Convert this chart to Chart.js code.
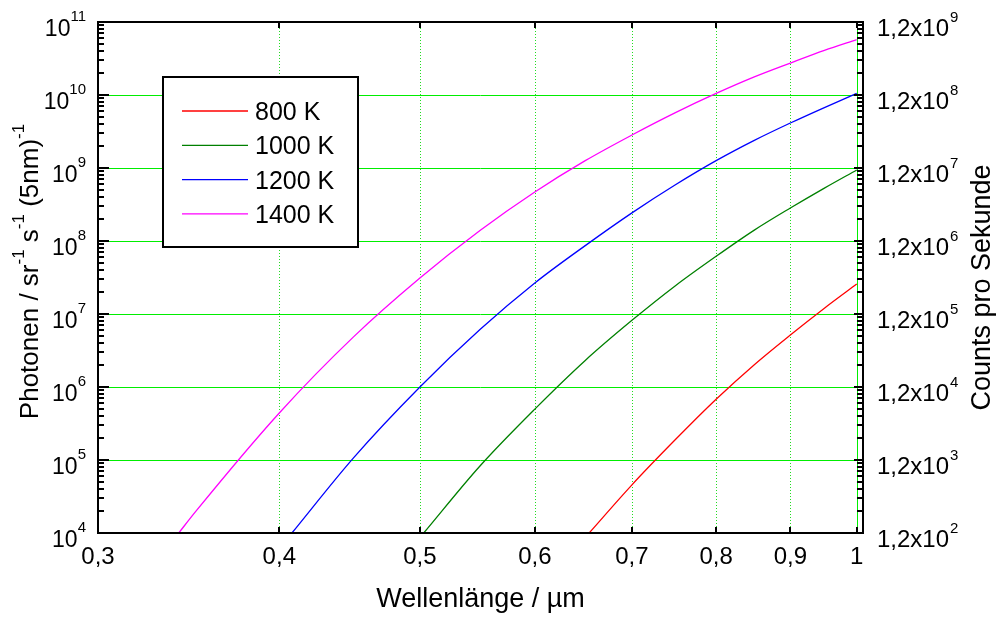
<!DOCTYPE html>
<html>
<head>
<meta charset="utf-8">
<title>Photonen</title>
<script src="https://cdn.jsdelivr.net/npm/chart.js@4/dist/chart.umd.min.js"></script>
<style>
html, body { margin: 0; padding: 0; background: #fff; }
#wrap { width: 997px; height: 617px; }
</style>
</head>
<body>
<div id="wrap"><canvas id="chartPhotonen" width="997" height="617"></canvas></div>
<script>
// Wellenlaenge in um, Photonen / sr / s / 5nm
var wl800 = [0.654, 0.7, 0.75, 0.8, 0.85, 0.9, 0.95, 1.0];
var n800 = [1e4, 4.57e4, 1.905e5, 6.79e5, 2.02e6, 5.15e6, 1.2e7, 2.57e7];

var wl1000 = [0.503, 0.55, 0.6, 0.65, 0.7, 0.75, 0.8, 0.85, 0.9, 0.95, 1.0];
var n1000 = [1e4, 8.28e4, 4.98e5, 2.31e6, 8.18e6, 2.44e7, 6.17e7, 1.41e8, 2.83e8, 5.31e8, 9.4e8];

var wl1200 = [0.4081, 0.45, 0.5, 0.55, 0.6, 0.65, 0.7, 0.75, 0.8, 0.85, 0.9, 0.95, 1.0];
var n1200 = [1e4, 1.07e5, 1e6, 6.12e6, 2.66e7, 8.65e7, 2.43e8, 5.89e8, 1.26e9, 2.39e9, 4.13e9, 6.73e9, 1.05e10];

var wl1400 = [0.341, 0.35, 0.4, 0.45, 0.5, 0.55, 0.6, 0.65, 0.7, 0.75, 0.8, 0.85, 0.9, 0.95, 1.0];
var n1400 = [1e4, 1.93e4, 4.41e5, 4.86e6, 3.11e7, 1.39e8, 4.69e8, 1.26e9, 2.83e9, 5.73e9, 1.05e10, 1.77e10, 2.74e10, 4.09e10, 5.75e10];

var seriesLabels = ["800 K", "1000 K", "1200 K", "1400 K"];
var seriesColors = ["#ff0000", "#008000", "#0000ff", "#ff00ff"];

var xTickValues = [0.3, 0.4, 0.5, 0.6, 0.7, 0.8, 0.9, 1.0];
var leftExponents = [4, 5, 6, 7, 8, 9, 10, 11];
var rightExponents = [2, 3, 4, 5, 6, 7, 8, 9];

var FONT = "'Liberation Sans', Arial, sans-serif";

function toPoints(xs, ys) {
    var pts = [];
    for (var i = 0; i < xs.length; i++) {
        pts.push({x: xs[i], y: ys[i]});
    }
    return pts;
}

function line(ctx, x1, y1, x2, y2) {
    ctx.beginPath();
    ctx.moveTo(x1, y1);
    ctx.lineTo(x2, y2);
    ctx.stroke();
}

// "10" mit Exponent, rechtsbuendig an xRight
function drawPowRight(ctx, base, exp, xRight, y) {
    ctx.font = "15px " + FONT;
    var we = ctx.measureText(exp).width;
    ctx.font = "23px " + FONT;
    var wb = ctx.measureText(base).width;
    ctx.textAlign = "left";
    ctx.textBaseline = "alphabetic";
    ctx.fillText(base, xRight - we - wb, y + 14);
    ctx.font = "15px " + FONT;
    ctx.fillText(exp, xRight - we, y - 1);
}

function drawPowLeft(ctx, base, exp, xLeft, y) {
    ctx.font = "24px " + FONT;
    var wb = ctx.measureText(base).width;
    ctx.textAlign = "left";
    ctx.textBaseline = "alphabetic";
    ctx.fillText(base, xLeft, y + 14);
    ctx.font = "15px " + FONT;
    ctx.fillText(exp, xLeft + wb + 1, y);
}

// Text aus Teilen [text, hochgestellt?] zeichnen, zentriert um 0
function drawParts(ctx, parts, bigSize, smallSize, raise) {
    var widths = [], total = 0;
    parts.forEach(function(p) {
        ctx.font = (p[1] ? smallSize : bigSize) + "px " + FONT;
        var w = ctx.measureText(p[0]).width;
        widths.push(w);
        total += w;
    });
    var x = -total / 2;
    ctx.textAlign = "left";
    ctx.textBaseline = "alphabetic";
    parts.forEach(function(p, i) {
        ctx.font = (p[1] ? smallSize : bigSize) + "px " + FONT;
        ctx.fillText(p[0], x, p[1] ? -raise : 0);
        x += widths[i];
    });
}

var axisDeco = {
    id: "axisDeco",
    beforeDatasetsDraw: function(chart) {
        var ctx = chart.ctx, a = chart.chartArea;
        var xs = chart.scales.x, ys = chart.scales.y;
        ctx.save();
        ctx.lineWidth = 1;
        ctx.strokeStyle = "#00ee00";
        leftExponents.forEach(function(e) {
            if (e === 4 || e === 11) return;
            var py = Math.round(ys.getPixelForValue(Math.pow(10, e))) + 0.5;
            line(ctx, a.left, py, a.right, py);
        });
        xTickValues.forEach(function(v) {
            if (v <= 0.3) return;
            var px = Math.round(xs.getPixelForValue(v)) + 0.5;
            if (v === 1.0) {
                ctx.setLineDash([]);
                ctx.strokeStyle = "#00ee00";
            } else {
                ctx.setLineDash([1, 2]);
                ctx.strokeStyle = "#22dd22";
            }
            line(ctx, px, a.top, px, a.bottom);
        });
        ctx.restore();
    },
    afterDatasetsDraw: function(chart) {
        var ctx = chart.ctx, a = chart.chartArea;
        var xs = chart.scales.x, ys = chart.scales.y, y2 = chart.scales.y2;
        ctx.save();

        // Legende
        ctx.fillStyle = "#fff";
        ctx.fillRect(163, 77, 195, 170);
        ctx.strokeStyle = "#000";
        ctx.lineWidth = 2;
        ctx.strokeRect(163, 77, 195, 170);
        chart.data.datasets.forEach(function(ds, i) {
            var ly = 111 + i * 34.3;
            ctx.strokeStyle = ds.borderColor;
            ctx.lineWidth = 1.3;
            line(ctx, 182, ly, 248, ly);
            ctx.fillStyle = "#000";
            ctx.font = "25px " + FONT;
            ctx.textAlign = "left";
            ctx.textBaseline = "alphabetic";
            ctx.fillText(ds.label, 255, ly + 9);
        });

        // Rahmen
        ctx.strokeStyle = "#000";
        ctx.lineWidth = 2;
        ctx.strokeRect(a.left, a.top, a.right - a.left, a.bottom - a.top);

        // Teilstriche links und rechts
        for (var e = 4; e <= 11; e++) {
            for (var k = 1; k <= 9; k++) {
                if (e === 11 && k > 1) break;
                var py = Math.round(ys.getPixelForValue(k * Math.pow(10, e)));
                var len = k === 1 ? 11 : 6;
                line(ctx, a.left, py, a.left + len, py);
            }
        }
        for (var e2 = 2; e2 <= 9; e2++) {
            for (var k2 = 1; k2 <= 9; k2++) {
                if (e2 === 9 && k2 > 1) break;
                var py2 = Math.round(y2.getPixelForValue(1.2 * k2 * Math.pow(10, e2)));
                var len2 = k2 === 1 ? 9 : 6;
                line(ctx, a.right, py2, a.right - len2, py2);
            }
        }
        // Teilstriche unten und oben
        xTickValues.forEach(function(v) {
            if (v <= 0.3) return;
            var px = Math.round(xs.getPixelForValue(v));
            line(ctx, px, a.bottom, px, a.bottom - 6);
            line(ctx, px, a.top, px, a.top + 6);
        });

        // Beschriftung der y-Achsen
        ctx.fillStyle = "#000";
        leftExponents.forEach(function(e) {
            var py = ys.getPixelForValue(Math.pow(10, e));
            drawPowRight(ctx, "10", String(e), a.left - 12, py);
        });
        rightExponents.forEach(function(e) {
            var py = y2.getPixelForValue(1.2 * Math.pow(10, e));
            drawPowLeft(ctx, "1,2x10", String(e), a.right + 14, py);
        });

        // Achsentitel
        var cy = (a.top + a.bottom) / 2;
        ctx.save();
        ctx.translate(38, cy - 6);
        ctx.rotate(-Math.PI / 2);
        drawParts(ctx, [["Photonen / sr", false], ["-1", true], [" s", false], ["-1", true], [" (5nm)", false], ["-1", true]], 26, 17, 14);
        ctx.restore();

        ctx.save();
        ctx.translate(990, cy + 10);
        ctx.rotate(-Math.PI / 2);
        drawParts(ctx, [["Counts pro Sekunde", false]], 27, 16, 0);
        ctx.restore();

        ctx.restore();
    }
};

var datasets = [
    toPoints(wl800, n800),
    toPoints(wl1000, n1000),
    toPoints(wl1200, n1200),
    toPoints(wl1400, n1400)
].map(function(pts, i) {
    return {
        label: seriesLabels[i],
        data: pts,
        borderColor: seriesColors[i],
        backgroundColor: seriesColors[i],
        borderWidth: 1.3,
        pointRadius: 0,
        fill: false,
        cubicInterpolationMode: "monotone"
    };
});

var canvas = document.querySelector("#chartPhotonen").getContext("2d");
var chart = new Chart(canvas, {
    type: "line",
    data: { datasets: datasets },
    plugins: [axisDeco],
    options: {
        responsive: false,
        animation: false,
        layout: { padding: { top: 22, left: 0, right: 0, bottom: 0 } },
        plugins: {
            legend: { display: false },
            tooltip: { enabled: false }
        },
        scales: {
            x: {
                type: "logarithmic",
                position: "bottom",
                min: 0.3,
                max: 1.01,
                grid: { display: false, drawTicks: false },
                border: { display: false },
                afterBuildTicks: function(scale) {
                    scale.ticks = xTickValues.map(function(v) { return {value: v}; });
                },
                afterFit: function(scale) { scale.height = 84; },
                ticks: {
                    autoSkip: false,
                    maxRotation: 0,
                    padding: 10,
                    color: "#000",
                    font: { family: FONT, size: 24 },
                    callback: function(value) {
                        return value === 1 ? "1" : value.toFixed(1).replace(".", ",");
                    }
                },
                title: {
                    display: true,
                    text: "Wellenlänge / µm",
                    color: "#000",
                    font: { family: FONT, size: 27 },
                    padding: { top: 0, bottom: 1 }
                }
            },
            y: {
                type: "logarithmic",
                position: "left",
                min: 1e4,
                max: 1e11,
                grid: { display: false, drawTicks: false },
                border: { display: false },
                ticks: { display: false },
                afterFit: function(scale) { scale.width = 98; }
            },
            y2: {
                type: "logarithmic",
                position: "right",
                min: 120,
                max: 1.2e9,
                grid: { display: false, drawTicks: false },
                border: { display: false },
                ticks: { display: false },
                afterFit: function(scale) { scale.width = 134; }
            }
        }
    }
});
</script>
</body>
</html>
